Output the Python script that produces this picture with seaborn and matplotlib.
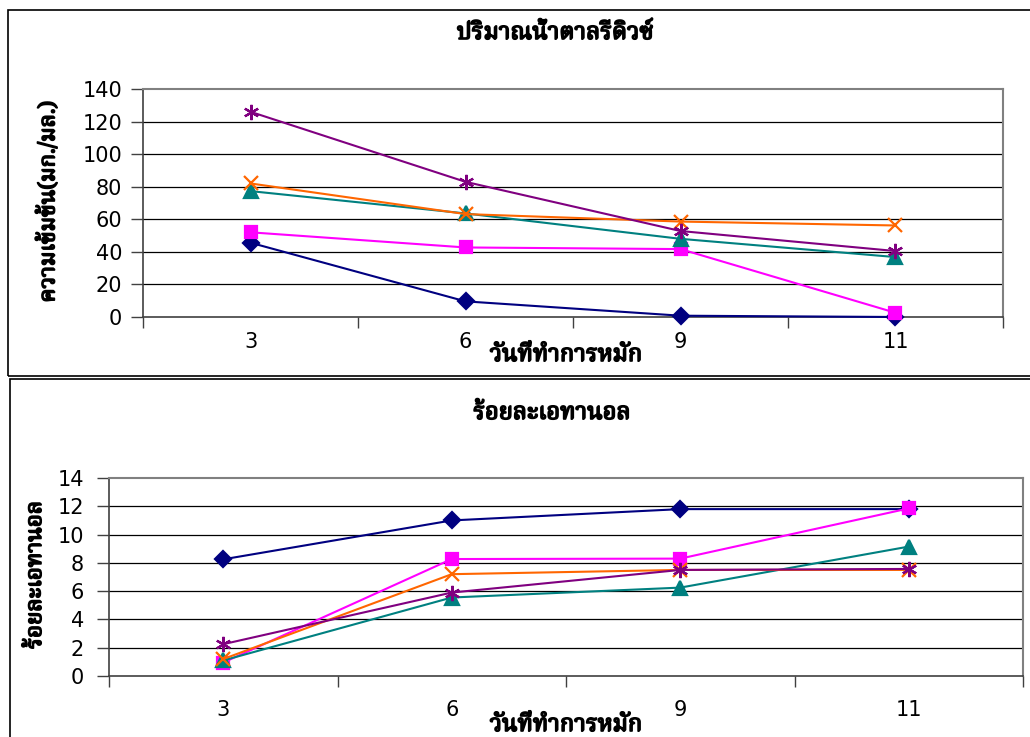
import matplotlib
matplotlib.use("Agg")
import matplotlib.pyplot as plt
from matplotlib import font_manager
from matplotlib.ft2font import FT2Font
from matplotlib.patches import Rectangle
import matplotlib.patheffects as pe
import seaborn as sns
import numpy as np

# ---------------- data ----------------
days = ["3", "6", "9", "11"]
sugar_s1 = [45.6, 9.6, 0.8, 0.0]
sugar_s2 = [52.0, 42.7, 41.7, 2.6]
sugar_s3 = [77.3, 63.6, 48.0, 36.8]
sugar_s4 = [82.0, 63.2, 58.6, 56.2]
sugar_s5 = [126.0, 83.0, 52.8, 40.5]
eth_s1 = [8.25, 11.0, 11.8, 11.8]
eth_s2 = [0.95, 8.27, 8.3, 11.85]
eth_s3 = [1.1, 5.55, 6.25, 9.15]
eth_s4 = [1.2, 7.2, 7.5, 7.5]
eth_s5 = [2.25, 5.9, 7.5, 7.57]
sugar_yticks = [0, 20, 40, 60, 80, 100, 120, 140]
eth_yticks = [0, 2, 4, 6, 8, 10, 12, 14]
title_top = "ปริมาณน้ำตาลรีดิวซ์"
title_bot = "ร้อยละเอทานอล"
xlabel = "วันที่ทำการหมัก"
ylabel_top = "ความเข้มข้น(มก./มล.)"
ylabel_bot = "ร้อยละเอทานอล"

colors = ["#000080", "#FF00FF", "#008080", "#FF6600", "#800080"]
markers = ["D", "s", "^", "x", (6, 2, 0)]
msizes = [8.5, 9, 9.5, 10, 11]

# ---------------- fonts ----------------
sns.set_theme(style="white")

def find_thai_font():
    best = None
    for f in font_manager.fontManager.ttflist:
        try:
            cm = FT2Font(f.fname).get_charmap()
        except Exception:
            continue
        if 0x0E1B in cm and 0x0E49 in cm:
            if best is None or "Noto" in f.name:
                best = f.name
    return best

thai = find_thai_font()
fam = [thai, "DejaVu Sans"] if thai else ["DejaVu Sans"]
num_font = "DejaVu Sans"
num_size = 15
plt.rcParams["font.family"] = fam

W, H = 1030, 737
fig = plt.figure(figsize=(W / 100, H / 100), dpi=100)
fig.patch.set_facecolor("white")

def px_axes(x0, y0, x1, y1):
    return fig.add_axes([x0 / W, (H - y1) / H, (x1 - x0) / W, (y1 - y0) / H])

# panel borders
fig.patches.append(Rectangle((8 / W, (H - 376) / H), (W + 10 - 8) / W, 366 / H,
                             transform=fig.transFigure, fill=False, ec="black", lw=1.2))
fig.patches.append(Rectangle((10 / W, -10 / H), (W + 10) / W, (H - 379 + 10) / H,
                             transform=fig.transFigure, fill=False, ec="black", lw=1.2))

ax1 = px_axes(143, 89, 1003, 317)
ax2 = px_axes(109, 478, 1023, 676)

x = np.arange(len(days))

def draw(ax, data, yticks, ypad, xpad):
    for vals, c, m, ms in zip(data, colors, markers, msizes):
        sns.lineplot(x=x, y=vals, ax=ax, color=c, marker=m, markersize=ms,
                     markeredgecolor=c, markerfacecolor=c, markeredgewidth=1.6,
                     linewidth=1.5, legend=False, clip_on=False, zorder=3)
    ax.set_xlim(-0.5, len(days) - 0.5)
    ax.set_ylim(yticks[0], yticks[-1])
    ax.set_yticks(yticks)
    ax.set_xticks(np.arange(-0.5, len(days), 1.0))
    ax.set_xticks(x, minor=True)
    ax.tick_params(axis="x", which="major", bottom=True, length=8, width=1,
                   color="#404040", direction="out", labelbottom=False)
    ax.tick_params(axis="x", which="minor", bottom=True, length=0, pad=xpad,
                   labelbottom=True)
    ax.tick_params(axis="y", left=True, length=9, width=1, color="#404040",
                   direction="out", pad=ypad)
    ax.set_yticklabels([str(t) for t in yticks], fontfamily=num_font, fontsize=num_size)
    ax.set_xticklabels(days, minor=True, fontfamily=num_font, fontsize=num_size)
    for lbl in ax.get_yticklabels() + ax.get_xticklabels(minor=True):
        lbl.set_fontsize(num_size)
        lbl.set_fontfamily(num_font)
        lbl.set_color("black")
    for t in yticks[1:-1]:
        ax.axhline(t, color="black", lw=0.9, zorder=1)
    for s in ["top", "right"]:
        ax.spines[s].set_visible(True)
        ax.spines[s].set_color("#808080")
        ax.spines[s].set_linewidth(1.5)
    for s in ["left", "bottom"]:
        ax.spines[s].set_color("#404040")
        ax.spines[s].set_linewidth(1.2)
    ax.set_xlabel("")
    ax.set_ylabel("")
    ax.grid(False)

draw(ax1, [sugar_s1, sugar_s2, sugar_s3, sugar_s4, sugar_s5], sugar_yticks, 6, 11)
draw(ax2, [eth_s1, eth_s2, eth_s3, eth_s4, eth_s5], eth_yticks, 9, 17.5)

bold = [pe.Stroke(linewidth=1.2, foreground="black"), pe.Normal()]

def ftext(xp, yp, s, size=17, **kw):
    fig.text(xp / W, (H - yp) / H, s, ha="center", va="center",
             fontsize=size, color="black", path_effects=bold, **kw)

ftext(555, 33, title_top)
ftext(552, 413, title_bot)
ftext(566, 355, xlabel)
ftext(566, 725, xlabel)
ftext(48, 202, ylabel_top, size=16, rotation=90)
ftext(35, 575, ylabel_bot, size=16, rotation=90)

fig.savefig("out.png", dpi=100, facecolor="white")
